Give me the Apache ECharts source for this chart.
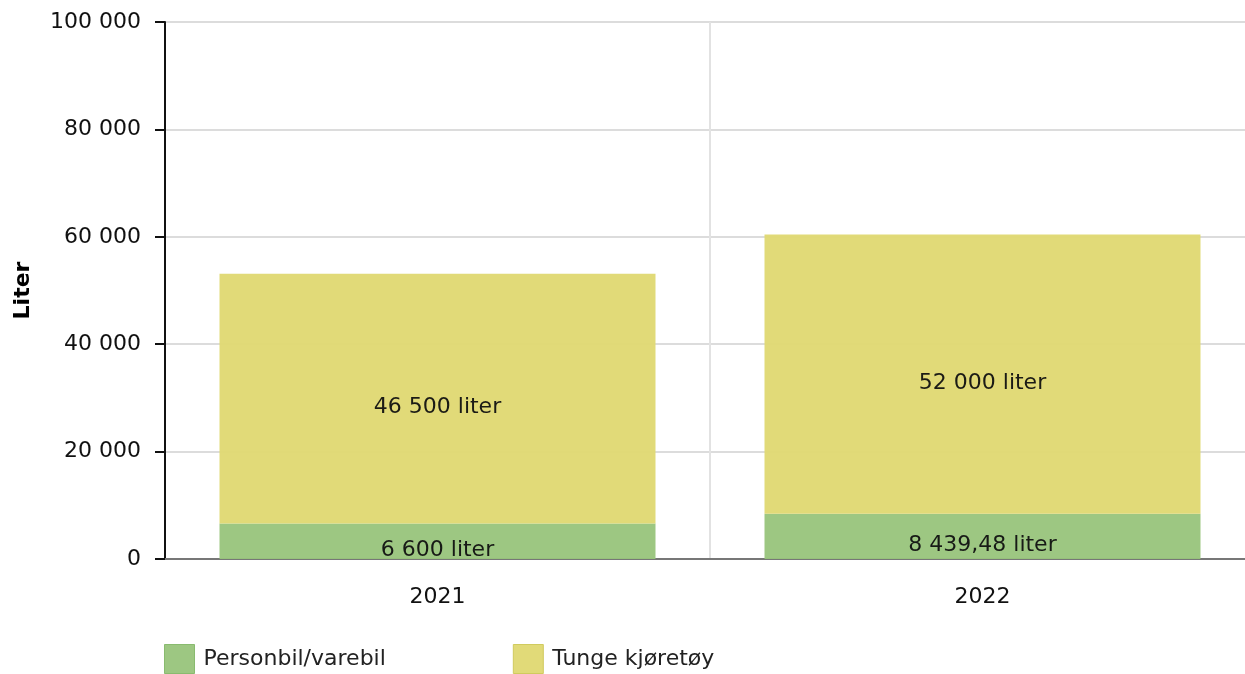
<!DOCTYPE html>
<html>
<head>
    <meta charset="utf-8" />
    <title>Liter per år</title>
    <style>
        html, body { margin: 0; padding: 0; background: #fff; }
    </style>
</head>
<body>
    <div id="divChart" style="width:1245px;height:674px;"></div>

    <script src="https://cdn.jsdelivr.net/npm/echarts@6/dist/echarts.min.js"></script>
    <script>
        var years = ['2021', '2022'];
        var personbil = [6600, 8439.48];
        var tunge = [46500, 52000];
        var yTicks = [0, 20000, 40000, 60000, 80000, 100000];

        // norsk tallformat: mellomrom som tusenskille, komma som desimal
        function fmt(v) {
            var parts = String(v).split('.');
            parts[0] = parts[0].replace(/\B(?=(\d{3})+(?!\d))/g, ' ');
            return parts.join(',');
        }

        var myChart = echarts.init(document.getElementById('divChart'));
        var font = '"DejaVu Sans", Verdana, sans-serif';
        var fs = 22;

        var option = {
            animation: false,
            textStyle: { fontFamily: font },
            grid: { left: 165, right: -10, top: 22, bottom: 115, outerBoundsMode: 'none', containLabel: false },
            legend: {
                left: 164,
                top: 644,
                padding: 0,
                itemWidth: 30,
                itemHeight: 29,
                itemGap: 127,
                textStyle: { fontSize: fs, color: '#222', fontFamily: font, padding: [4, 0, 0, 4] },
                data: [
                    { name: 'Personbil/varebil', icon: 'rect', itemStyle: { borderColor: '#86b86a', borderWidth: 1 } },
                    { name: 'Tunge kjøretøy', icon: 'rect', itemStyle: { borderColor: '#cfc95a', borderWidth: 1 } }
                ]
            },
            xAxis: {
                type: 'category',
                data: years,
                axisLine: { lineStyle: { color: '#777', width: 2 } },
                axisTick: { alignWithLabel: true, length: 8, lineStyle: { color: '#aaa', width: 2 } },
                axisLabel: { fontSize: fs, color: '#111', margin: 27 },
                splitLine: { show: true, lineStyle: { color: '#e2e2e2', width: 2 } }
            },
            yAxis: {
                type: 'value',
                min: yTicks[0],
                max: yTicks[yTicks.length - 1],
                interval: 20000,
                name: 'Liter',
                nameLocation: 'middle',
                nameGap: 131,
                nameTextStyle: { fontSize: fs, fontWeight: 'bold', color: '#000' },
                axisLine: { show: true, lineStyle: { color: '#111', width: 2 } },
                axisTick: { show: true, length: 10, lineStyle: { color: '#111', width: 2 } },
                axisLabel: { fontSize: fs, color: '#111', margin: 24, formatter: function (v) { return fmt(v); } },
                splitLine: { lineStyle: { color: '#dcdcdc', width: 2 } }
            },
            series: [
                {
                    name: 'Personbil/varebil',
                    type: 'bar',
                    stack: 'tot',
                    barWidth: '80%',
                    data: personbil,
                    itemStyle: { color: '#98c47b', opacity: 0.95 },
                    label: {
                        show: true, position: 'inside', offset: [0, 9],
                        fontSize: fs, color: '#111',
                        formatter: function (p) { return fmt(p.value) + ' liter'; }
                    }
                },
                {
                    name: 'Tunge kjøretøy',
                    type: 'bar',
                    stack: 'tot',
                    barWidth: '80%',
                    data: tunge,
                    itemStyle: { color: '#dfd871', opacity: 0.95 },
                    label: {
                        show: true, position: 'inside', offset: [0, 9],
                        fontSize: fs, color: '#111',
                        formatter: function (p) { return fmt(p.value) + ' liter'; }
                    }
                }
            ]
        };
        myChart.setOption(option);
    </script>
</body>
</html>
